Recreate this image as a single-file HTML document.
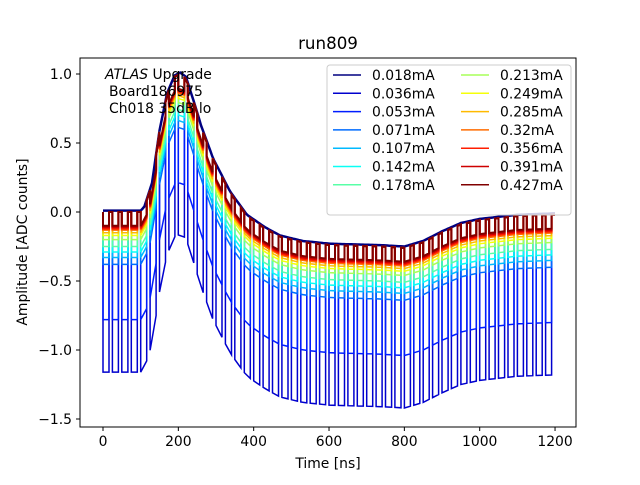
<!DOCTYPE html>
<html><head><meta charset="utf-8"><style>
body{margin:0;background:#fff}
svg{font-family:"DejaVu Sans","Liberation Sans",sans-serif}
</style></head><body>
<svg id="c" width="640" height="480" xmlns="http://www.w3.org/2000/svg">
<rect width="640" height="480" fill="#fff"/>
<text x="328" y="49" font-size="16.7" text-anchor="middle">run809</text>
<g id="series"></g>
<rect x="80" y="58" width="496" height="369" fill="none" stroke="#000" stroke-width="1"/>
<g id="ticks"></g>
<text x="328" y="468" font-size="13.9" text-anchor="middle">Time [ns]</text>
<text x="27" y="242" font-size="13.9" text-anchor="middle" transform="rotate(-90 27 242)">Amplitude [ADC counts]</text>
<g font-size="13.9">
<text x="105" y="79"><tspan font-style="italic">ATLAS</tspan> Upgrade</text>
<text x="109" y="96">Board186975</text>
<text x="109" y="113">Ch018 35dB lo</text>
</g>
<g id="legend">
<rect x="327" y="65" width="244" height="150" rx="3" fill="#fff" fill-opacity="0.8" stroke="#ccc"/>
</g>
</svg>
<script>
const labels=["0.018mA","0.036mA","0.053mA","0.071mA","0.107mA","0.142mA","0.178mA","0.213mA","0.249mA","0.285mA","0.32mA","0.356mA","0.391mA","0.427mA"];
const dips=[0.0,1.16,0.78,0.38,0.33,0.29,0.25,0.2,0.17,0.15,0.13,0.12,0.11,0.1];
const envT=[0,100,110,130,150,170,190,205,220,240,260,292,337,382,430,470,530,603,735,800,850,900,950,1000,1100,1200];
const envV=[0.0,0.0,0.03,0.2,0.58,0.85,0.98,1.0,0.97,0.8,0.62,0.38,0.14,-0.03,-0.12,-0.18,-0.22,-0.24,-0.25,-0.26,-0.22,-0.15,-0.09,-0.06,-0.03,-0.02];
const xTicks=[0,200,400,600,800,1000,1200];
const yTicks=[-1.5,-1.0,-0.5,0.0,0.5,1.0];
const X=t=>103+t*0.3767, Y=v=>212-v*138;
function env(t){for(let i=1;i<envT.length;i++){if(t<=envT[i]){const f=(t-envT[i-1])/(envT[i]-envT[i-1]);return envV[i-1]+f*(envV[i]-envV[i-1]);}}return envV[envV.length-1];}
function jet(x){const c=v=>Math.round(255*Math.max(0,Math.min(1,v)));return `rgb(${c(1.5-Math.abs(4*x-3))},${c(1.5-Math.abs(4*x-2))},${c(1.5-Math.abs(4*x-1))})`;}
const NS="http://www.w3.org/2000/svg";
const sg=document.getElementById('series');
labels.forEach((lab,i)=>{
  const col=jet(i/13);
  const d=dips[i];let pts=[];
  if(d===0){for(let t=0;t<=1200;t+=5)pts.push([t,env(t)+0.01]);}
  else{
  for(let t=0;t<1200;t+=25){
    const w=16;
    pts.push([t,env(t)],[t,env(t)-d],[t+w,env(t+w)-d],[t+w,env(t+w)]);
  }
  pts.push([1200,env(1200)]);}
  const p=document.createElementNS(NS,'path');
  p.setAttribute('d','M'+pts.map(q=>X(q[0]).toFixed(1)+','+Y(q[1]).toFixed(1)).join('L'));
  p.setAttribute('fill','none');p.setAttribute('stroke',col);p.setAttribute('stroke-width',d===0?'2.5':(i>9?'2':'1.5'));
  
  
  sg.appendChild(p);
  const lg=document.getElementById('legend');
  const cx=i<7?333:461, cy=75+(i%7)*18.3;
  const l=document.createElementNS(NS,'line');
  l.setAttribute('x1',cx);l.setAttribute('x2',cx+28);l.setAttribute('y1',cy);l.setAttribute('y2',cy);
  l.setAttribute('stroke',col);l.setAttribute('stroke-width','1.5');
  
  
  lg.appendChild(l);
  const tx=document.createElementNS(NS,'text');
  tx.setAttribute('x',cx+39);tx.setAttribute('y',cy+5);tx.setAttribute('font-size','13.9');tx.textContent=lab;
  
  
  lg.appendChild(tx);
});
const tg=document.getElementById('ticks');
xTicks.forEach(t=>{
  const l=document.createElementNS(NS,'line');
  l.setAttribute('x1',X(t));l.setAttribute('x2',X(t));l.setAttribute('y1',427);l.setAttribute('y2',431);l.setAttribute('stroke','#000');
  
  
  tg.appendChild(l);
  const tx=document.createElementNS(NS,'text');
  tx.setAttribute('x',X(t));tx.setAttribute('y',446);tx.setAttribute('font-size','13.9');tx.setAttribute('text-anchor','middle');tx.textContent=t;
  
  
  tg.appendChild(tx);
});
yTicks.forEach(v=>{
  const l=document.createElementNS(NS,'line');
  l.setAttribute('x1',76);l.setAttribute('x2',80);l.setAttribute('y1',Y(v));l.setAttribute('y2',Y(v));l.setAttribute('stroke','#000');
  
  
  tg.appendChild(l);
  const tx=document.createElementNS(NS,'text');
  tx.setAttribute('x',72);tx.setAttribute('y',Y(v)+5);tx.setAttribute('font-size','13.9');tx.setAttribute('text-anchor','end');
  tx.textContent=(v<0?'\u2212':'')+Math.abs(v).toFixed(1);
  
  
  tg.appendChild(tx);
});
</script>
</body></html>
